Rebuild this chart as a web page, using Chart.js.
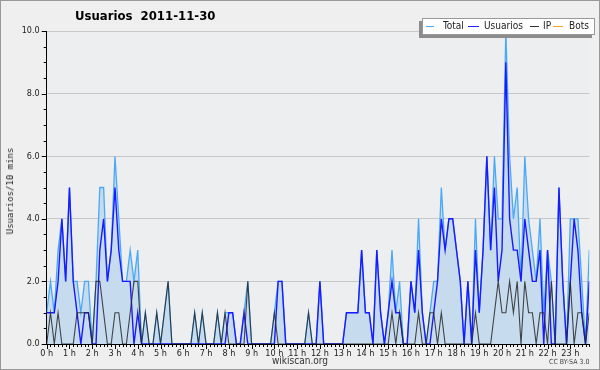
<!DOCTYPE html>
<html>
<head>
<meta charset="utf-8">
<script src="https://cdn.jsdelivr.net/npm/chart.js@4.4.0/dist/chart.umd.min.js"></script>
<style>
body{margin:0;background:#fff}
#marco{position:relative;width:600px;height:370px;background:#efefef;overflow:hidden;font-family:"DejaVu Sans Condensed","DejaVu Sans",sans-serif}
#grafica{position:absolute;left:0;top:0}
#titulo{position:absolute;left:75px;top:8px;font-size:13px;font-weight:bold;color:#000;white-space:pre}
#leyenda{position:absolute;left:422px;top:18px;width:171px;height:15px;background:#fff;border:1px solid #999;box-shadow:-3px 3px 0 #8c8c8c}
#leyenda span{position:absolute;font-size:10px;color:#222;top:1px}
#leyenda i{position:absolute;top:7px;height:1px}
#ejey{position:absolute;left:10px;top:191px;font-family:"DejaVu Sans Mono",monospace;font-size:9px;color:#222;transform:translate(-50%,-50%) rotate(-90deg);white-space:nowrap}
#pie{position:absolute;left:300px;top:355px;transform:translateX(-50%);font-size:10px;color:#333}
#licencia{position:absolute;left:549px;top:358px;font-size:7px;color:#444}
#borde{position:absolute;left:0;top:0;width:600px;height:370px;box-sizing:border-box;border:1px solid #999;pointer-events:none}
</style>
</head>
<body>
<div id="marco">
    <canvas id="grafica" width="600" height="370"></canvas>
    <div id="titulo">Usuarios  2011-11-30</div>
    <div id="leyenda">
        <i style="left:3px;width:8px;background:#4aa8f8"></i><span style="left:20px">Total</span>
        <i style="left:45px;width:11px;background:#2222ff"></i><span style="left:61px">Usuarios</span>
        <i style="left:107px;width:9px;background:#333"></i><span style="left:120px">IP</span>
        <i style="left:130px;width:10px;background:#ffa020"></i><span style="left:146px">Bots</span>
    </div>
    <div id="ejey">Usuarios/10 mins</div>
    <div id="pie">wikiscan.org</div>
    <div id="licencia">CC BY-SA 3.0</div>
    <div id="borde"></div>
</div>
<script>
// etiquetas de las horas (una cada 6 franjas de 10 min)
const horas=['0 h','1 h','2 h','3 h','4 h','5 h','6 h','7 h','8 h','9 h','10 h','11 h',
    '12 h','13 h','14 h','15 h','16 h','17 h','18 h','19 h','20 h','21 h','22 h','23 h'];

// valores por franja de 10 minutos, una fila por hora
const total=[
    1,2,1,3,4,2, 5,2,2,1,2,2, 0,2,5,5,2,3, 6,4,2,2,3,2,
    3,0,1,0,0,1, 0,1,2,0,0,0, 0,0,0,1,0,1, 0,0,0,1,0,1,
    1,1,0,0,1,2, 0,0,0,0,0,0, 1,2,2,0,0,0, 0,0,0,1,0,0,
    2,0,0,0,0,0, 0,1,1,1,1,3, 1,1,0,3,1,0, 1,3,1,2,0,0,
    2,1,4,1,0,1, 2,2,5,3,4,4, 3,2,0,2,0,4, 1,3,6,3,6,4,
    4,10,6,4,5,2, 6,4,3,2,4,1, 3,2,0,5,2,0, 4,4,4,2,0,3
];
const usuarios=[
    1,1,1,2,4,2, 5,2,1,0,1,1, 0,0,3,4,2,3, 5,3,2,2,2,0,
    1,0,0,0,0,0, 0,0,0,0,0,0, 0,0,0,0,0,0, 0,0,0,0,0,0,
    1,1,0,0,1,0, 0,0,0,0,0,0, 0,2,2,0,0,0, 0,0,0,0,0,0,
    2,0,0,0,0,0, 0,1,1,1,1,3, 1,1,0,3,1,0, 1,2,1,1,0,0,
    2,1,3,1,0,0, 1,2,4,3,4,4, 3,2,0,2,0,3, 1,3,6,3,5,2,
    3,9,4,3,3,2, 4,3,2,2,3,0, 3,0,0,5,2,0, 2,4,3,1,0,2
];
const ip=[
    0,1,0,1,0,0, 0,0,1,1,1,1, 0,2,2,1,0,0, 1,1,0,0,1,2,
    2,0,1,0,0,1, 0,1,2,0,0,0, 0,0,0,1,0,1, 0,0,0,1,0,1,
    0,0,0,0,0,2, 0,0,0,0,0,0, 1,0,0,0,0,0, 0,0,0,1,0,0,
    0,0,0,0,0,0, 0,0,0,0,0,0, 0,0,0,0,0,0, 0,1,0,1,0,0,
    0,0,1,0,0,1, 1,0,1,0,0,0, 0,0,0,0,0,1, 0,0,0,0,1,2,
    1,1,2,1,2,0, 2,1,1,0,1,1, 0,2,0,0,0,0, 2,0,1,1,0,1
];
const bots=[
    0,0,0,0,0,0, 0,0,0,0,0,0, 0,0,0,0,0,0, 0,0,0,0,0,0,
    0,0,0,0,0,0, 0,0,0,0,0,0, 0,0,0,0,0,0, 0,0,0,0,0,0,
    0,0,0,0,0,0, 0,0,0,0,0,0, 0,0,0,0,0,0, 0,0,0,0,0,0,
    0,0,0,0,0,0, 0,0,0,0,0,0, 0,0,0,0,0,0, 0,0,0,0,0,0,
    0,0,0,0,0,0, 0,0,0,0,0,0, 0,0,0,0,0,0, 0,0,0,0,0,0,
    0,0,0,0,0,0, 0,0,0,0,0,0, 0,0,0,0,0,0, 0,0,0,0,0,0
];

function puntos(serie){
    return serie.map((v,i)=>({x:i,y:v}));
}

// fondo del area de dibujo
const fondo={
    id:'fondo',
    beforeDraw(chart){
        const a=chart.chartArea, c=chart.ctx;
        c.save();
        c.fillStyle='#eceef0';
        c.fillRect(a.left,a.top,a.right-a.left,a.bottom-a.top);
        c.restore();
    }
};

// marcas de los ejes (mayores y menores)
const marcas={
    id:'marcas',
    afterDraw(chart){
        const c=chart.ctx, xs=chart.scales.x, ys=chart.scales.y;
        c.save();
        c.strokeStyle='#000';
        c.lineWidth=1;
        c.beginPath();
        for(let v=0;v<=10;v+=0.5){
            let y=Math.round(ys.getPixelForValue(v))+0.5;
            let l=(v%2===0)?5:3;
            c.moveTo(ys.right-l,y);
            c.lineTo(ys.right,y);
        }
        for(let i=0;i<=143;i++){
            let x=Math.round(xs.getPixelForValue(i))+0.5;
            let l=(i%6===0)?5:3;
            c.moveTo(x,xs.top);
            c.lineTo(x,xs.top+l);
        }
        c.stroke();
        c.restore();
    }
};

Chart.defaults.font.family='"DejaVu Sans Condensed","DejaVu Sans",sans-serif';
Chart.defaults.font.size=9;
Chart.defaults.color='#222';

new Chart(document.getElementById('grafica'),{
    type:'line',
    data:{
        datasets:[
            {label:'Bots',data:puntos(bots),borderColor:'#ffa020',borderWidth:1,pointRadius:0,order:4},
            {label:'Total',data:puntos(total),borderColor:'#4aa8f8',backgroundColor:'#c6dbee',fill:'origin',borderWidth:1.3,pointRadius:0,order:3},
            {label:'Usuarios',data:puntos(usuarios),borderColor:'#1a1aff',borderWidth:1.4,pointRadius:0,order:2},
            {label:'IP',data:puntos(ip),borderColor:'rgba(40,40,40,0.85)',borderWidth:1.1,pointRadius:0,order:1}
        ]
    },
    options:{
        responsive:false,
        animation:false,
        layout:{padding:{top:31,right:10.7,left:0,bottom:0}},
        plugins:{legend:{display:false},tooltip:{enabled:false}},
        scales:{
            x:{
                type:'linear',min:0,max:143,
                afterFit(s){s.height=26;},
                grid:{color:'transparent',drawTicks:false},
                border:{display:true,color:'#000',width:1},
                ticks:{stepSize:6,includeBounds:false,padding:4,maxRotation:0,autoSkip:false,
                    callback:(v)=>horas[v/6]}
            },
            y:{
                min:0,max:10,
                afterFit(s){s.width=46.7;},
                grid:{color:(c)=>c.tick.value===0?'transparent':'#c8c8c8',drawTicks:false},
                border:{display:true,color:'#000',width:1},
                ticks:{stepSize:2,padding:7,callback:(v)=>v.toFixed(1)}
            }
        }
    },
    plugins:[fondo,marcas]
});
</script>
</body>
</html>
